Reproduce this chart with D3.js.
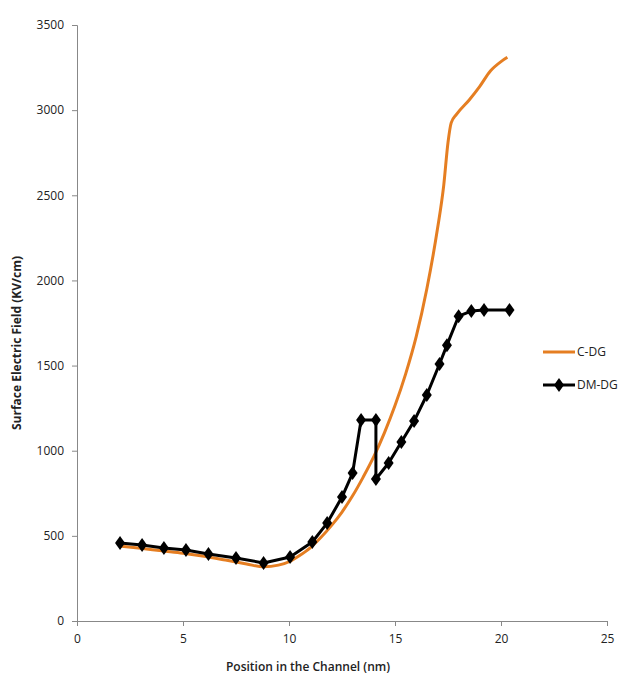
<!DOCTYPE html>
<html>
<head>
<meta charset="utf-8">
<script src="https://cdn.jsdelivr.net/npm/d3@7"></script>
<style>
  body { margin: 0; background: #fff; }
  svg text { font-family: "Open Sans", "DejaVu Sans", sans-serif; fill: #222; }
</style>
</head>
<body>
<svg id="chart" width="627" height="681"></svg>
<script>
// C-DG (smooth curve)
const cdgX = [2, 3, 4, 5, 6, 7, 8, 8.8, 9.5, 10, 10.5, 11, 11.5, 12, 12.5, 13, 13.5, 14, 14.5, 15, 15.5, 16, 16.5, 17, 17.3, 17.5, 17.65, 17.9, 18.5, 19, 19.5, 20, 20.3];
const cdgY = [440, 427, 412, 398, 380, 358, 335, 318, 328, 348, 385, 430, 490, 560, 640, 735, 845, 965, 1105, 1265, 1450, 1670, 1950, 2300, 2560, 2810, 2925, 2975, 3060, 3140, 3230, 3285, 3310];

// DM-DG (markers)
const dmX = [2.03, 3.07, 4.1, 5.14, 6.2, 7.5, 8.8, 10.05, 11.1, 11.8, 12.5, 13.0, 13.4, 14.1, 14.1, 14.7, 15.3, 15.9, 16.5, 17.1, 17.45, 18.0, 18.6, 19.2, 20.4];
const dmY = [458, 446, 429, 417, 393, 370, 341, 376, 464, 575, 728, 869, 1180, 1180, 834, 928, 1051, 1174, 1327, 1509, 1620, 1790, 1820, 1826, 1826];

const xTicks = [0, 5, 10, 15, 20, 25];
const yTicks = [0, 500, 1000, 1500, 2000, 2500, 3000, 3500];

const svg = d3.select("#chart");
const plotLeft = 77, plotRight = 607, plotTop = 25, plotBottom = 621;

const x = d3.scaleLinear().domain([0, 25]).range([plotLeft, plotRight]);
const y = d3.scaleLinear().domain([0, 3500]).range([plotBottom, plotTop]);

// Axes
const xAxis = svg.append("g")
    .attr("transform", `translate(0,${plotBottom})`)
    .call(d3.axisBottom(x).tickValues(xTicks).tickFormat(d3.format("d")).tickSize(5).tickPadding(8));
const yAxis = svg.append("g")
    .attr("transform", `translate(${plotLeft},0)`)
    .call(d3.axisLeft(y).tickValues(yTicks).tickFormat(d3.format("d")).tickSize(5).tickPadding(8));

[xAxis, yAxis].forEach(g => {
    g.select(".domain").attr("stroke", "#888");
    g.selectAll(".tick line").attr("stroke", "#888");
    g.selectAll(".tick text").attr("font-size", 12).attr("fill", "#333")
        .style("font-family", '"Open Sans", sans-serif');
});

// Axis titles
svg.append("text")
    .attr("x", (plotLeft + plotRight) / 2 - 34).attr("y", 671)
    .attr("text-anchor", "middle")
    .attr("font-size", 12).attr("font-weight", 600)
    .text("Position in the Channel (nm)");

svg.append("text")
    .attr("transform", "translate(21,343) rotate(-90)")
    .attr("text-anchor", "middle")
    .attr("font-size", 12).attr("font-weight", 700)
    .text("Surface Electric Field (KV/cm)");

// C-DG line
const cdg = cdgX.map((v, i) => [v, cdgY[i]]);
svg.append("path")
    .datum(cdg)
    .attr("fill", "none")
    .attr("stroke", "#E57E22")
    .attr("stroke-width", 3)
    .attr("d", d3.line().x(d => x(d[0])).y(d => y(d[1])).curve(d3.curveMonotoneX));

// DM-DG line with diamonds
const dm = dmX.map((v, i) => [v, dmY[i]]);
svg.append("path")
    .datum(dm)
    .attr("fill", "none")
    .attr("stroke", "#000")
    .attr("stroke-width", 3)
    .attr("stroke-linejoin", "round")
    .attr("d", d3.line().x(d => x(d[0])).y(d => y(d[1])));

const diamond = "M0,-7L5,0L0,7L-5,0Z";
svg.append("g")
    .selectAll("path")
    .data(dm)
    .enter()
    .append("path")
    .attr("d", diamond)
    .attr("fill", "#000")
    .attr("transform", d => `translate(${x(d[0])},${y(d[1])})`);

// Legend
const legend = svg.append("g");
legend.append("line")
    .attr("x1", 543).attr("x2", 575).attr("y1", 352).attr("y2", 352)
    .attr("stroke", "#E57E22").attr("stroke-width", 3);
legend.append("text")
    .attr("x", 577).attr("y", 356).attr("font-size", 12).text("C-DG");
legend.append("line")
    .attr("x1", 543).attr("x2", 575).attr("y1", 385).attr("y2", 385)
    .attr("stroke", "#000").attr("stroke-width", 3);
legend.append("path")
    .attr("d", diamond).attr("fill", "#000")
    .attr("transform", "translate(559,385)");
legend.append("text")
    .attr("x", 577).attr("y", 389).attr("font-size", 12).text("DM-DG");
</script>
</body>
</html>
